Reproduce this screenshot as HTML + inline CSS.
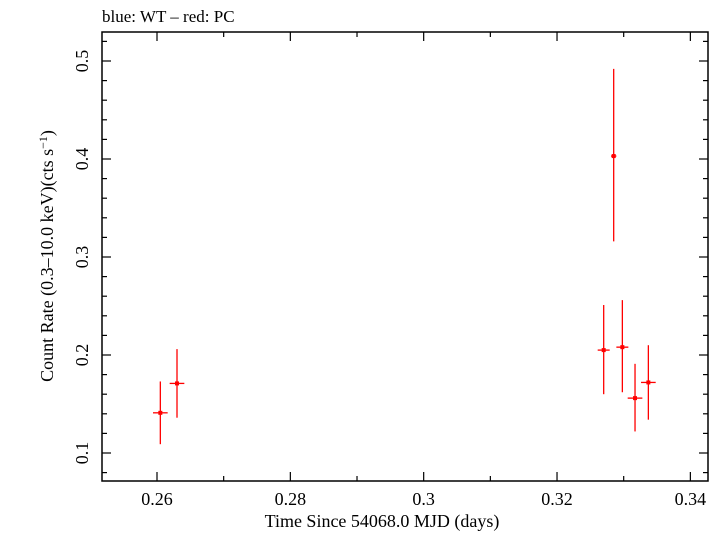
<!DOCTYPE html>
<html><head><meta charset="utf-8"><style>
body{margin:0;background:#fff}
svg{font-family:"Liberation Serif",serif}
</style></head><body>
<svg id="c" width="720" height="532" xmlns="http://www.w3.org/2000/svg">
<text x="102" y="22" font-size="17">blue: WT – red: PC</text>
<rect x="102" y="32" width="606" height="449" fill="none" stroke="#000" stroke-width="1.5"/>
<g id="ticks"></g>
<g id="pts"></g>
<text x="382" y="527" font-size="18" text-anchor="middle">Time Since 54068.0 MJD (days)</text>
<text transform="translate(53,256) rotate(-90)" font-size="18" text-anchor="middle">Count Rate (0.3–10.0 keV)(cts s<tspan dy="-6" font-size="12">−1</tspan><tspan dy="6">)</tspan></text>
</svg>
<script>
const xVals=[0.2605,0.263,0.327,0.3285,0.3298,0.3317,0.3337];
const xErr=[0.0011,0.0011,0.0009,0.0004,0.0009,0.0011,0.0011];
const yVals=[0.141,0.171,0.205,0.403,0.208,0.156,0.172];
const yLo=[0.109,0.136,0.160,0.316,0.162,0.122,0.134];
const yHi=[0.173,0.206,0.251,0.492,0.256,0.191,0.210];
const xTicks=[0.26,0.28,0.30,0.32,0.34];
const xTickLabels=["0.26","0.28","0.3","0.32","0.34"];
const yTicks=[0.1,0.2,0.3,0.4,0.5];
const yTickLabels=["0.1","0.2","0.3","0.4","0.5"];
const NS="http://www.w3.org/2000/svg";
const X=v=>157+(v-0.26)*6667;
const Y=v=>453-(v-0.1)*980;
function mk(tag,attrs,parent){const e=document.createElementNS(NS,tag);for(const k in attrs)e.setAttribute(k,attrs[k]);parent.appendChild(e);return e;}
const tg=document.getElementById('ticks'),pg=document.getElementById('pts');
for(let v=0.26;v<=0.3451;v+=0.01){const x=X(v);const major=Math.abs(Math.round(v*50)-v*50)<1e-6;const L=major?9:5;
 let t=mk('line',{x1:x,x2:x,y1:481,y2:481-L,stroke:'#000','stroke-width':1.2},tg);
 
 
 t=mk('line',{x1:x,x2:x,y1:32,y2:32+L,stroke:'#000','stroke-width':1.2},tg);
 
 }
for(let v=0.08;v<=0.5201;v+=0.02){const y=Y(v);if(y>481||y<32)continue;const major=Math.abs(Math.round(v*10)-v*10)<1e-6;const L=major?9:5;
 let t=mk('line',{x1:102,x2:102+L,y1:y,y2:y,stroke:'#000','stroke-width':1.2},tg);
 
 
 t=mk('line',{x1:708,x2:708-L,y1:y,y2:y,stroke:'#000','stroke-width':1.2},tg);
 
 }
xTicks.forEach((v,i)=>{const t=mk('text',{x:X(v),y:505,'font-size':18,'text-anchor':'middle'},tg);t.textContent=xTickLabels[i];
 
 });
yTicks.forEach((v,i)=>{const t=mk('text',{transform:`translate(88,${Y(v)}) rotate(-90)`,'font-size':18,'text-anchor':'middle'},tg);t.textContent=yTickLabels[i];
 
 });
xVals.forEach((v,i)=>{const g=mk('g',{},pg);
 
 
 mk('line',{x1:X(v),x2:X(v),y1:Y(yLo[i]),y2:Y(yHi[i]),stroke:'#f00','stroke-width':1.3},g);
 mk('line',{x1:X(v-xErr[i]),x2:X(v+xErr[i]),y1:Y(yVals[i]),y2:Y(yVals[i]),stroke:'#f00','stroke-width':1.3},g);
 mk('rect',{x:X(v)-2,y:Y(yVals[i])-2,width:4,height:4,fill:'#f00'},g);});
</script>
</body></html>
